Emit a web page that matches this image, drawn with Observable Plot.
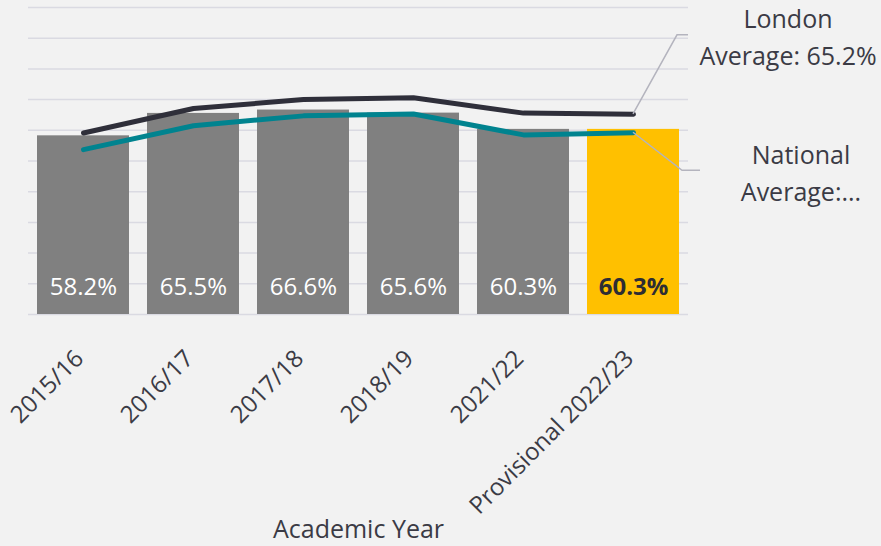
<!DOCTYPE html>
<html><head><meta charset="utf-8">
<script src="https://cdn.jsdelivr.net/npm/d3@7"></script>
<script src="https://cdn.jsdelivr.net/npm/@observablehq/plot@0.6"></script>
<style>
html,body{margin:0;padding:0;background:#f2f2f2;}
svg{display:block;}
</style></head><body><div id="chart"></div>
<script>
const years = ["2015/16","2016/17","2017/18","2018/19","2021/22","Provisional 2022/23"];
const schoolValues = [58.2,65.5,66.6,65.6,60.3,60.3];
const londonValues = [59.1,67.1,70.0,70.6,65.6,65.2];
const nationalValues = [53.7,61.5,64.7,65.3,58.5,59.2];
const provisional = [false,false,false,false,false,true];
const yTicks = [0,10,20,30,40,50,60,70,80,90,100];
const londonLabel = ["London","Average: 65.2%"];
const nationalLabel = ["National","Average:..."];
const xTitle = "Academic Year";

const rows = years.map((y,i)=>({year:y, school:schoolValues[i], london:londonValues[i], national:nationalValues[i], prov:provisional[i]}));
const regular = rows.filter(d => !d.prov);
const prov = rows.filter(d => d.prov);

const FONT = "'Open Sans', sans-serif";
const TEXT = "#3b3b45";

const chart = Plot.plot({
  width: 881, height: 546,
  marginLeft: 28, marginRight: 193, marginTop: 7, marginBottom: 232,
  style: {background:"#f2f2f2", fontFamily: FONT, color: TEXT},
  x: {domain: years, paddingInner: 0.167, paddingOuter: 0.0835, label: null},
  y: {domain: [0,100], axis: null},
  marks: [
    Plot.ruleY(yTicks, {stroke:"#dadae2", strokeWidth:1.5}),
    Plot.barY(regular, {x:"year", y:"school", fill:"#808080"}),
    Plot.barY(prov, {x:"year", y:"school", fill:"#ffc000"}),
    Plot.text(regular, {x:"year", y:0, text: d => d.school.toFixed(1)+"%", dy:-27, fontSize:24, fill:"#ffffff"}),
    Plot.text(prov, {x:"year", y:0, text: d => d.school.toFixed(1)+"%", dy:-27, fontSize:24, fill:"#2d2d33", fontWeight:"bold"}),
    Plot.line(rows, {x:"year", y:"london", stroke:"#2f2f3a", strokeWidth:5, strokeLinecap:"round", strokeLinejoin:"round"}),
    Plot.line(rows, {x:"year", y:"national", stroke:"#00838f", strokeWidth:5, strokeLinecap:"round", strokeLinejoin:"round"}),
    Plot.axisX({tickSize:0, tickRotate:-45, fontSize:24, tickPadding:10, dx:-4, dy:30, label:null, color:TEXT}),
    Plot.text([xTitle], {frameAnchor:"bottom", dy:223, fontSize:25, fill:TEXT})
  ]
});
document.getElementById("chart").appendChild(chart);

// annotations with leader lines, positioned from the scales
const sx = chart.scale("x"), sy = chart.scale("y");
const svg = d3.select(chart);
const last = rows[rows.length-1];
const px = sx.apply(last.year) + sx.bandwidth/2;
const ann = svg.append("g");
function annotate(yval, pts, lines, tx, ty) {
  const y0 = sy.apply(yval);
  ann.append("path")
    .attr("d", d3.line()([[px,y0]].concat(pts.map(([dx,dy])=>[px+dx,y0+dy]))))
    .attr("fill","none").attr("stroke","#b4b4be").attr("stroke-width",1.5);
  const t = ann.append("text").attr("text-anchor","middle").attr("font-size",25)
    .attr("font-family",FONT).attr("fill",TEXT);
  lines.forEach((l,i)=>t.append("tspan").attr("x",px+tx).attr("y",y0+ty+i*37).text(l));
}
annotate(last.london, [[44,-79],[55,-79]], londonLabel, 155, -86);
annotate(last.national, [[49,38],[67,38]], nationalLabel, 168, 32);
</script></body></html>
